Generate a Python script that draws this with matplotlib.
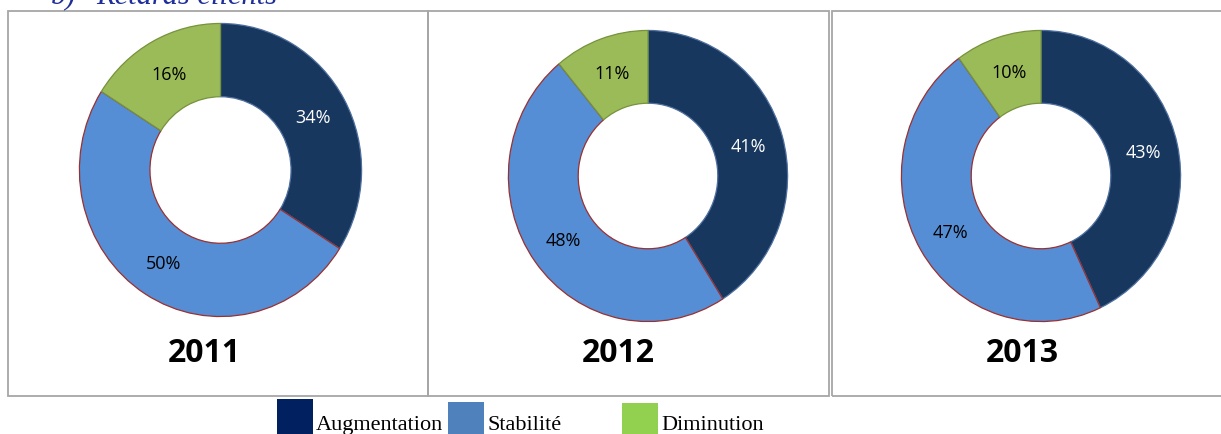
import matplotlib
matplotlib.use('Agg')

import matplotlib.pyplot as plt
from matplotlib.patches import Rectangle

# values (percent)
years = ['2011', '2012', '2013']
categories = ['Augmentation', 'Stabilité', 'Diminution']
augmentation = [34, 41, 43]
stabilite = [50, 48, 47]
diminution = [16, 11, 10]

W, H = 1221, 435
slice_colors = ['#17375e', '#558ed5', '#9bbb59']
slice_edges = ['#4f6f9f', '#9b3030', '#76923c']
legend_colors = ['#002060', '#4f81bd', '#92d050']
label_colors = ['white', 'black', 'black']

# donut centre / radii in pixels, year label x, panel box
donuts = [(220.5, 171, 142.5, 148), (648, 177, 141, 147), (1041, 177, 141, 147)]
year_x = [204, 618.5, 1022]
panels = [(8, 428), (428, 829), (831.5, 1225)]

fig = plt.figure(figsize=(W / 100, H / 100), dpi=100)


def fx(px):
    return px / W


def fy(py):
    return 1 - py / H


# panel frames
for x0, x1 in panels:
    fig.patches.append(Rectangle((fx(x0), fy(397)), fx(x1 - x0), (397 - 12) / H,
                                 transform=fig.transFigure, fill=False,
                                 edgecolor='#a6a6a6', linewidth=1.3))

for i, (cx, cy, rx, ry) in enumerate(donuts):
    ax = fig.add_axes([fx(cx - rx), fy(cy + ry), 2 * rx / W, 2 * ry / H])
    vals = [augmentation[i], stabilite[i], diminution[i]]
    wedges, texts, autotexts = ax.pie(
        vals, colors=slice_colors, startangle=90, counterclock=False,
        radius=1, pctdistance=0.75, autopct=lambda p: f'{p:.0f}%',
        wedgeprops=dict(width=0.5, linewidth=0.9),
        textprops=dict(fontsize=13, family='Open Sans'))
    for w, ec in zip(wedges, slice_edges):
        w.set_edgecolor(ec)
    for t, c in zip(autotexts, label_colors):
        t.set_color(c)
    ax.set_xlim(-1.01, 1.01)
    ax.set_ylim(-1.01, 1.01)
    ax.set_aspect('auto')
    ax.axis('off')

    fig.text(fx(year_x[i]), fy(353), years[i], ha='center', va='center',
             fontsize=23, fontweight='bold', family='Open Sans')

# section title, cut by the top edge as in the source
fig.text(fx(51), fy(4), 'b)', fontsize=22, style='italic',
         family='Liberation Serif', color='#1f2f9a', va='baseline')
fig.text(fx(96.5), fy(4), 'Retards clients', fontsize=22, style='italic',
         family='Liberation Serif', color='#1f2f9a', va='baseline')

# legend
legend_sq = [(277, 400), (448, 403), (622, 404)]
legend_tx = [316, 487, 661]
for (sx, sy), tx, name, col in zip(legend_sq, legend_tx, categories, legend_colors):
    fig.patches.append(Rectangle((fx(sx), fy(sy + 36)), 36 / W, 36 / H,
                                 transform=fig.transFigure, facecolor=col,
                                 edgecolor='none'))
    fig.text(fx(tx), fy(430), name, fontsize=16, family='Liberation Serif',
             va='baseline', ha='left')

fig.savefig('out.png', dpi=100)
